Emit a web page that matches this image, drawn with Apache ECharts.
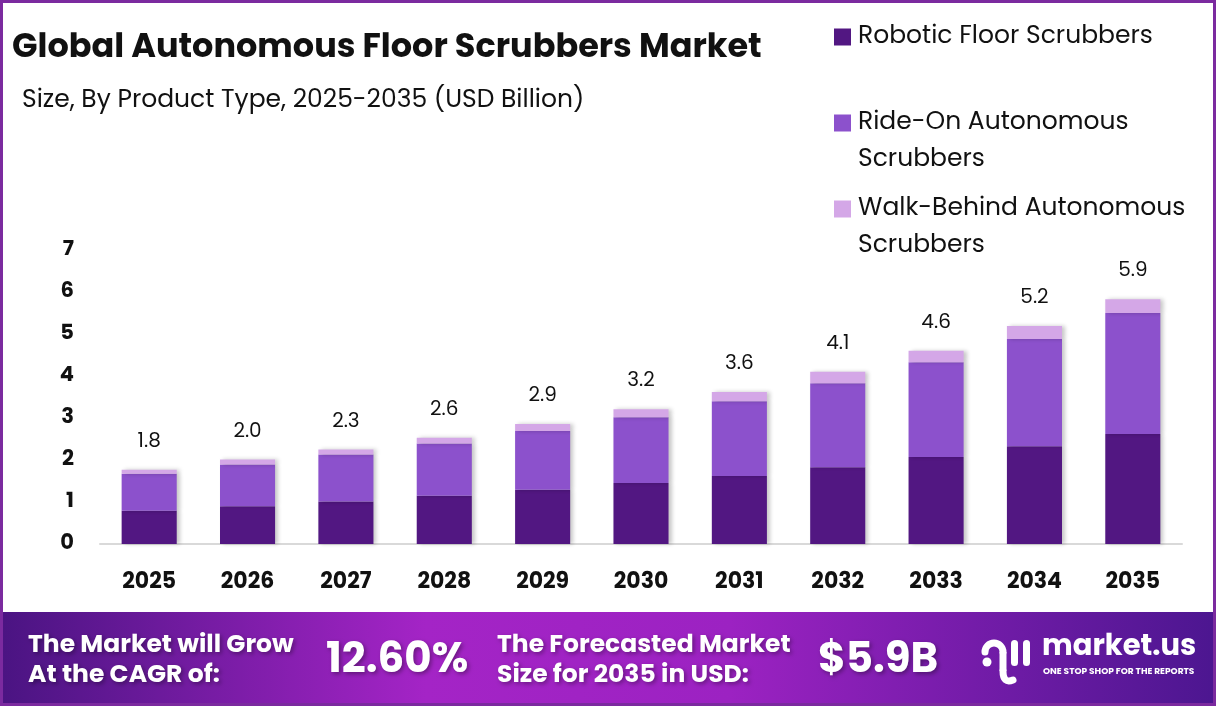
<!DOCTYPE html>
<html>
<head>
<meta charset="utf-8">
<script src="https://cdn.jsdelivr.net/npm/echarts@6/dist/echarts.min.js"></script>
<style>
html,body{margin:0;padding:0;background:#fff;}
#chart{width:1216px;height:706px;}
</style>
</head>
<body>
<div id="chart"></div>
<script>
var years = ['2025','2026','2027','2028','2029','2030','2031','2032','2033','2034','2035'];
var robotic = [0.79,0.90,1.01,1.15,1.29,1.45,1.62,1.83,2.07,2.33,2.62];
var rideOn = [0.88,0.99,1.12,1.24,1.40,1.57,1.78,2.00,2.26,2.55,2.88];
var walkBehind = [0.10,0.12,0.12,0.14,0.17,0.19,0.22,0.27,0.27,0.31,0.33];
var totalLabels = ['1.8','2.0','2.3','2.6','2.9','3.2','3.6','4.1','4.6','5.2','5.9'];
var seriesNames = ['Robotic Floor Scrubbers','Ride-On Autonomous Scrubbers','Walk-Behind Autonomous Scrubbers'];
// a leading blank line keeps the icon level with the first text line
var legendLines = {
    'Robotic Floor Scrubbers':'Robotic Floor Scrubbers',
    'Ride-On Autonomous Scrubbers':' \nRide-On Autonomous\nScrubbers',
    'Walk-Behind Autonomous Scrubbers':' \nWalk-Behind Autonomous\nScrubbers'
};
var colors = ['#521782','#8C51CC','#D4A7E7'];

var font = 'Poppins, "Noto Sans", sans-serif';
var boldFont = 'Poppins, Inter, sans-serif';

var chart = echarts.init(document.getElementById('chart'));

function makeLegend(name, top){
    return {
        data:[name],
        left:834,
        top:top,
        padding:0,
        itemWidth:17,
        itemHeight:17,
        itemGap:6,
        icon:'rect',
        selectedMode:false,
        formatter:function(n){ return legendLines[n]; },
        textStyle:{fontFamily:font, fontSize:25, color:'#111', lineHeight:37, padding:[3,0,0,2]}
    };
}

var barShadow = {shadowColor:'rgba(0,0,0,0.22)', shadowBlur:4, shadowOffsetX:3};
var txtShadow = {textShadowColor:'rgba(0,0,0,0.35)', textShadowBlur:4, textShadowOffsetX:2, textShadowOffsetY:2};

function bannerText(x, y, text, size, lh){
    return {type:'text', x:x, y:y, z:101, style:Object.assign({
        text:text, lineHeight:lh, fontFamily:boldFont, fontWeight:'bold', fontSize:size, fill:'#fff'
    }, txtShadow)};
}

chart.setOption({
    animation:false,
    color:colors,
    legend:[
        makeLegend(seriesNames[0], 17),
        makeLegend(seriesNames[1], 66),
        makeLegend(seriesNames[2], 152)
    ],
    grid:{left:100, right:34, top:250, bottom:162},
    xAxis:{
        type:'category',
        data:years,
        axisLine:{lineStyle:{color:'#d9d9d9', width:2}},
        axisTick:{show:false},
        axisLabel:{margin:27, fontFamily:boldFont, fontWeight:'bold', fontSize:22, color:'#111'}
    },
    yAxis:{
        type:'value',
        min:0,
        max:7,
        interval:1,
        splitLine:{show:false},
        axisLine:{show:false},
        axisTick:{show:false},
        axisLabel:{margin:26, fontFamily:boldFont, fontWeight:'bold', fontSize:21, color:'#111'}
    },
    series:[
        {
            name:seriesNames[0], type:'bar', stack:'total', barWidth:'56%',
            data:robotic, itemStyle:Object.assign({color:colors[0]}, barShadow)
        },
        {
            name:seriesNames[1], type:'bar', stack:'total',
            data:rideOn, itemStyle:Object.assign({color:colors[1]}, barShadow)
        },
        {
            name:seriesNames[2], type:'bar', stack:'total',
            data:walkBehind, itemStyle:Object.assign({color:colors[2]}, barShadow),
            label:{
                show:true, position:'top', distance:18,
                fontFamily:font, fontSize:20, color:'#111',
                formatter:function(p){ return totalLabels[p.dataIndex]; }
            }
        }
    ],
    graphic:[
        // purple frame
        {type:'rect', shape:{x:1.5,y:1.5,width:1213,height:703}, style:{fill:'none', stroke:'#7B2A9F', lineWidth:3}, z:100},
        {type:'text', x:12, y:32, style:{text:'Global Autonomous Floor Scrubbers Market', fontFamily:boldFont, fontWeight:'bold', fontSize:33.5, fill:'#111'}},
        {type:'text', x:22, y:88, style:{text:'Size, By Product Type, 2025-2035 (USD Billion)', fontFamily:font, fontSize:25, fill:'#111'}},
        // bottom banner
        {type:'rect', shape:{x:0,y:612,width:1216,height:94}, z:90, style:{
            fill:new echarts.graphic.LinearGradient(0,0,1,0,[
                {offset:0,color:'#4A1482'},
                {offset:0.35,color:'#A424C6'},
                {offset:0.6,color:'#9C22C2'},
                {offset:1,color:'#4C1690'}
            ])
        }},
        bannerText(28, 631, 'The Market will Grow\nAt the CAGR of:', 25, 30),
        bannerText(326, 640, '12.60%', 42),
        bannerText(497, 631, 'The Forecasted Market\nSize for 2035 in USD:', 25, 30),
        bannerText(818, 640, '$5.9B', 42),
        // logo
        {type:'circle', z:101, shape:{cx:987,cy:662,r:4.5}, style:{fill:'#fff'}},
        {type:'arc', z:101, shape:{cx:994,cy:652,r:9,startAngle:Math.PI,endAngle:Math.PI*2,clockwise:true}, style:{stroke:'#fff', lineWidth:7, lineCap:'round', fill:'none'}},
        {type:'line', z:101, shape:{x1:1003,y1:652,x2:1003,y2:671}, style:{stroke:'#fff', lineWidth:7}},
        {type:'bezierCurve', z:101, shape:{x1:1003,y1:671,cpx1:1003,cpy1:684,x2:1013,y2:680}, style:{stroke:'#fff', lineWidth:7, lineCap:'round', fill:'none'}},
        {type:'rect', z:101, shape:{x:1011,y:640,width:7,height:26,r:3.5}, style:{fill:'#fff'}},
        {type:'rect', z:101, shape:{x:1023,y:640,width:7,height:26,r:3.5}, style:{fill:'#fff'}},
        {type:'text', z:101, x:1042, y:633, style:{text:'market.us', fontFamily:boldFont, fontWeight:'bold', fontSize:29, fill:'#fff'}},
        {type:'text', z:101, x:1043, y:667, style:{text:'ONE STOP SHOP FOR THE REPORTS', fontFamily:boldFont, fontWeight:'bold', fontSize:9, fill:'#fff'}}
    ]
});
</script>
</body>
</html>
